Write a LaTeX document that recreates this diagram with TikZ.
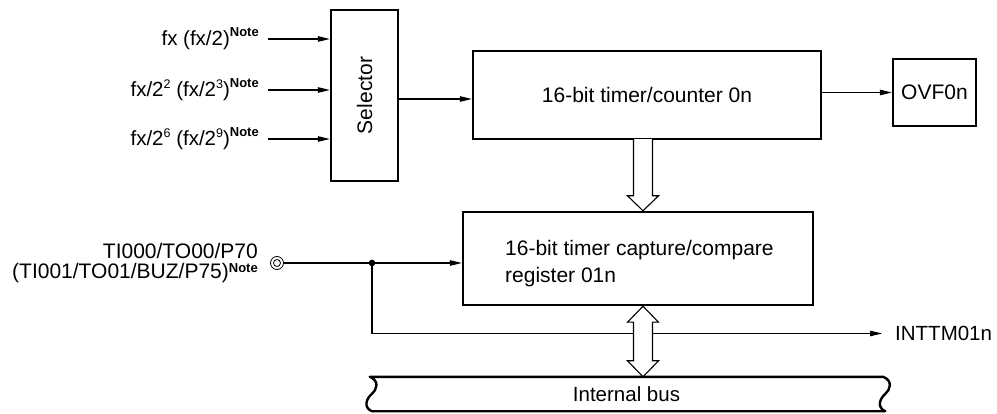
\documentclass[tikz,border=0pt]{standalone}
\usepackage{fontspec}
\setmainfont{Liberation Sans}
\usetikzlibrary{arrows.meta,calc}
\newcommand\nt[1][9pt]{\raisebox{#1}{\fontsize{13}{13}\selectfont\bfseries Note}}
\newcommand\sps[1]{\raisebox{8pt}{\fontsize{12.5}{12.5}\selectfont #1}}
\begin{document}
\begin{tikzpicture}[x=1pt,y=-1pt,
  box/.style={draw, line width=2.4pt, inner sep=0pt, font=\fontsize{21}{21}\selectfont},
  conn/.style={line width=1.1pt},
  arr/.style={conn, -{Triangle[length=12pt,width=5.5pt]}},
  lbl/.style={font=\fontsize{20.5}{19}\selectfont, inner sep=0pt},
  hollow/.style={draw, fill=white, line width=1.1pt, line join=miter}]
\useasboundingbox (0,0) rectangle (997,414);
% selector
\node[box, minimum width=67pt, minimum height=171pt] (sel) at (364.5,95.5) {};
\node[rotate=90, font=\fontsize{21}{21}\selectfont, inner sep=0pt] (seltxt) at (sel.center) {Selector};
% inputs
\coordinate (i1) at (268,39);
\coordinate (i2) at (268,90);
\coordinate (i3) at (268,139);
\draw[arr] (i1) -- (i1 -| sel.west);
\draw[arr] (i2) -- (i2 -| sel.west);
\draw[arr] (i3) -- (i3 -| sel.west);
\node[lbl, anchor=base east] (l1) at (259,46) {fx (fx/2)\nt};
\node[lbl, anchor=base east] (l2) at (259,96.5) {fx/2\sps{2} (fx/2\sps{3})\nt};
\node[lbl, anchor=base east] (l3) at (259,146) {fx/2\sps{6} (fx/2\sps{9})\nt};
% timer
\node[box, minimum width=348pt, minimum height=88pt] (timer) at (647,95) {16-bit timer/counter 0n};
\coordinate (s1) at ($(sel.east)+(0,3.5)$);
\draw[arr] (s1) -- (s1 -| timer.west);
% OVF
\node[box, minimum width=83pt, minimum height=67pt] (ovf) at (934.5,92.5) {OVF0n};
\draw[arr] (ovf.west -| timer.east) -- (ovf.west);
% capture
\node[box, minimum width=350pt, minimum height=93pt] (cap) at (638,258.5) {};
\node[font=\fontsize{21}{27}\selectfont, align=left, anchor=north west, inner sep=0pt] (captxt) at (505,239.8) {16-bit timer capture/compare\\register 01n};
% hollow arrow timer -> capture
\coordinate (a1) at ($(timer.south)+(-4,0)$);
\coordinate (a2) at (a1 |- cap.north);
\draw[hollow] ($(a1)+(-9.5,-1)$) -- ($(a2)+(-9.5,-15)$) -- ($(a2)+(-15.5,-15)$) -- (a2) -- ($(a2)+(15.5,-15)$) -- ($(a2)+(9.5,-15)$) -- ($(a1)+(9.5,-1)$);
% internal bus
\node[inner sep=0pt, minimum width=513pt, minimum height=34pt, font=\fontsize{20.5}{20.5}\selectfont] (bus) at (626.5,394) {Internal bus};
\draw[line width=2.4pt, line join=round] (bus.north west) -- (bus.north east)
  .. controls +(10,4) and +(5,-4) .. ($(bus.east)+(2,0)$)
  .. controls +(-5,4) and +(-9,-4) .. ($(bus.south east)+(2,0)$)
  -- ($(bus.south west)+(2,0)$)
  .. controls +(-9,-4) and +(-5,4) .. ($(bus.west)+(2,0)$)
  .. controls +(5,-4) and +(10,4) .. (bus.north west) -- cycle;
% TI input
\node[circle, draw, line width=0.8pt, minimum size=13pt, inner sep=0pt] (pin) at (277,263) {};
\draw[line width=0.8pt] (pin.center) circle (3.5pt);
\node[font=\fontsize{21}{20}\selectfont, inner sep=0pt, align=right, anchor=north east] (tilbl) at (258,243) {TI000/TO00/P70\\(TI001/TO01/BUZ/P75)\nt[6pt]};
\coordinate (j) at (372,263);
\draw[arr] (pin.east) -- (pin.east -| cap.west);
\fill (j) circle (3.3pt);
\node[lbl, inner xsep=13pt, anchor=west] (intt) at (882,333.5) {INTTM01n};
\draw[arr] (j) |- (intt.west);
% double arrow capture <-> bus
\coordinate (b1) at ($(cap.south)+(5,0)$);
\coordinate (b2) at (b1 |- bus.north);
\draw[hollow] (b1) -- ++(15.5,16) -- ++(-6,0) -- ($(b2)+(9.5,-16)$) -- ++(6,0) -- (b2)
  -- ++(-15.5,-16) -- ++(6,0) -- ($(b1)+(-9.5,16)$) -- ++(-6,0) -- cycle;
\end{tikzpicture}
\end{document}
